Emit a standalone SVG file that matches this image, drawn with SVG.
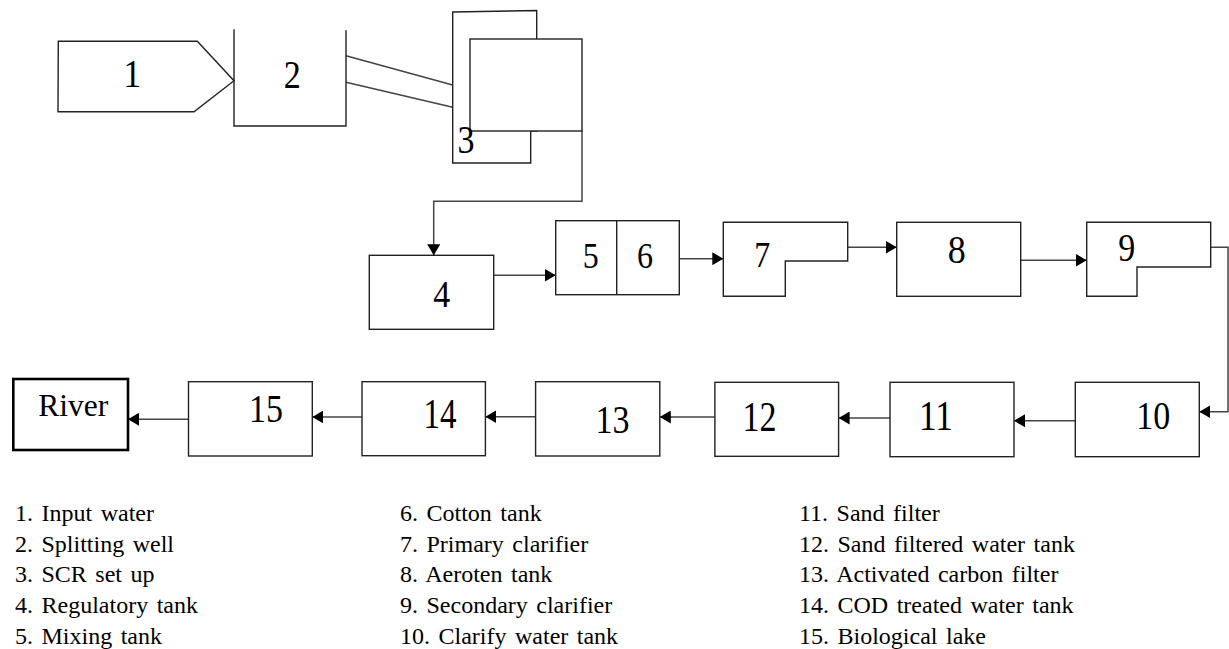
<svg xmlns="http://www.w3.org/2000/svg" width="1229" height="649" viewBox="0 0 1229 649">
<defs>
<style>
.shape{fill:#fff;stroke:#222;stroke-width:1.4}
.open{fill:none;stroke:#222;stroke-width:1.4}
.conn{fill:none;stroke:#444;stroke-width:1.5}
.num{font-family:"Liberation Serif","Times New Roman",serif;fill:#000;text-anchor:middle}
.leg{font-family:"Liberation Serif","Times New Roman",serif;font-size:24px;fill:#000;word-spacing:2.5px}
</style>
<marker id="ah" markerUnits="userSpaceOnUse" markerWidth="12" markerHeight="13" refX="11" refY="6.5" orient="auto">
<path d="M0,0 L11,6.5 L0,13 Z" fill="#000"/>
</marker>
</defs>
<rect width="1229" height="649" fill="#fff"/>

<g id="connectors">
<line class="conn" x1="346" y1="55.7" x2="452.7" y2="85"/>
<line class="conn" x1="346" y1="82.3" x2="452.7" y2="107.3"/>
<polyline class="conn" points="582,131 582,201.3 433.7,201.3 433.7,255.3" marker-end="url(#ah)"/>
<line class="conn" x1="493.7" y1="275.3" x2="555.7" y2="275.3" marker-end="url(#ah)"/>
<line class="conn" x1="679.3" y1="258.7" x2="723.3" y2="258.7" marker-end="url(#ah)"/>
<line class="conn" x1="847.7" y1="247.3" x2="896.7" y2="247.3" marker-end="url(#ah)"/>
<line class="conn" x1="1020.7" y1="260.3" x2="1086.7" y2="260.3" marker-end="url(#ah)"/>
<polyline class="conn" points="1210.7,247.3 1228,247.3 1228,411.7 1199.3,411.7" marker-end="url(#ah)"/>
<line class="conn" x1="1075.3" y1="420.7" x2="1014" y2="420.7" marker-end="url(#ah)"/>
<line class="conn" x1="890" y1="418" x2="838.6" y2="418" marker-end="url(#ah)"/>
<line class="conn" x1="714.9" y1="417" x2="659.8" y2="417" marker-end="url(#ah)"/>
<line class="conn" x1="535.6" y1="416.7" x2="485.4" y2="416.7" marker-end="url(#ah)"/>
<line class="conn" x1="362" y1="417" x2="312.3" y2="417" marker-end="url(#ah)"/>
<line class="conn" x1="188.5" y1="419.3" x2="128" y2="419.3" marker-end="url(#ah)"/>
</g>

<g id="node1">
<polygon class="shape" points="58.3,41.3 197.3,41.3 234,80.7 194,111.7 58,111.7"/>
<text class="num" x="132.3" y="87.3" font-size="41" textLength="18" lengthAdjust="spacingAndGlyphs">1</text>
</g>
<g id="node2">
<path class="open" d="M234,29.3 L234,126 L346,126 L346,30.3"/>
<text class="num" x="292.3" y="88.3" font-size="39" textLength="17" lengthAdjust="spacingAndGlyphs">2</text>
</g>
<g id="node3">
<polygon class="shape" points="452.7,12 536.7,10.5 536.7,131 530.7,131 530.7,163 452.7,163"/>
<rect class="shape" x="470" y="39" width="112" height="92"/>
<text class="num" x="466" y="153.3" font-size="39" textLength="17" lengthAdjust="spacingAndGlyphs">3</text>
</g>
<g id="node4">
<rect class="shape" x="369.3" y="255.3" width="124.4" height="74"/>
<text class="num" x="441.7" y="306.7" font-size="38" textLength="17" lengthAdjust="spacingAndGlyphs">4</text>
</g>
<g id="node5-6">
<rect class="shape" x="555.7" y="220.7" width="123.6" height="74"/>
<line class="open" x1="616.7" y1="220.7" x2="616.7" y2="294.7"/>
<text class="num" x="590.7" y="267.7" font-size="36" textLength="16" lengthAdjust="spacingAndGlyphs">5</text>
<text class="num" x="645" y="267.7" font-size="36" textLength="16" lengthAdjust="spacingAndGlyphs">6</text>
</g>
<g id="node7">
<polygon class="shape" points="723.3,222.3 847.7,222.3 847.7,261 785.3,261 785.3,296.3 723.3,296.3"/>
<text class="num" x="762.3" y="266.7" font-size="35" textLength="16" lengthAdjust="spacingAndGlyphs">7</text>
</g>
<g id="node8">
<rect class="shape" x="896.7" y="222.3" width="124" height="74"/>
<text class="num" x="956.7" y="263.3" font-size="41" textLength="18" lengthAdjust="spacingAndGlyphs">8</text>
</g>
<g id="node9">
<polygon class="shape" points="1086.7,222.3 1210.7,222.3 1210.7,267 1137,267 1137,296.3 1086.7,296.3"/>
<text class="num" x="1126.7" y="260.7" font-size="39" textLength="17" lengthAdjust="spacingAndGlyphs">9</text>
</g>
<g id="node10">
<rect class="shape" x="1075.3" y="382.3" width="124" height="74.4"/>
<text class="num" x="1153.3" y="429.3" font-size="41" textLength="34" lengthAdjust="spacingAndGlyphs">10</text>
</g>
<g id="node11">
<rect class="shape" x="890" y="382.3" width="124" height="74.4"/>
<text class="num" x="936" y="430" font-size="42" textLength="34" lengthAdjust="spacingAndGlyphs">11</text>
</g>
<g id="node12">
<rect class="shape" x="714.9" y="382.3" width="123.7" height="74"/>
<text class="num" x="759.4" y="431" font-size="42" textLength="34" lengthAdjust="spacingAndGlyphs">12</text>
</g>
<g id="node13">
<rect class="shape" x="535.6" y="381.7" width="124.2" height="74.3"/>
<text class="num" x="612.5" y="432.7" font-size="41" textLength="34" lengthAdjust="spacingAndGlyphs">13</text>
</g>
<g id="node14">
<rect class="shape" x="362" y="381.7" width="123.4" height="74"/>
<text class="num" x="440" y="428.3" font-size="42" textLength="33" lengthAdjust="spacingAndGlyphs">14</text>
</g>
<g id="node15">
<rect class="shape" x="188.5" y="381.7" width="123.8" height="74.3"/>
<text class="num" x="266" y="421.7" font-size="41" textLength="34" lengthAdjust="spacingAndGlyphs">15</text>
</g>
<g id="river">
<rect x="13.3" y="379" width="114.7" height="71" fill="#fff" stroke="#000" stroke-width="2.6"/>
<text x="38.3" y="416" font-family="'Liberation Serif','Times New Roman',serif" font-size="31" textLength="70" lengthAdjust="spacingAndGlyphs">River</text>
</g>

<g id="legend">
<text class="leg" x="15" y="521">1. Input water</text>
<text class="leg" x="15" y="551.7">2. Splitting well</text>
<text class="leg" x="15" y="582.4">3. SCR set up</text>
<text class="leg" x="15" y="613.1">4. Regulatory tank</text>
<text class="leg" x="15" y="643.8">5. Mixing tank</text>
<text class="leg" x="400" y="521">6. Cotton tank</text>
<text class="leg" x="400" y="551.7">7. Primary clarifier</text>
<text class="leg" x="400" y="582.4">8. Aeroten tank</text>
<text class="leg" x="400" y="613.1">9. Secondary clarifier</text>
<text class="leg" x="400" y="643.8">10. Clarify water tank</text>
<text class="leg" x="799" y="521">11. Sand filter</text>
<text class="leg" x="799" y="551.7">12. Sand filtered water tank</text>
<text class="leg" x="799" y="582.4">13. Activated carbon filter</text>
<text class="leg" x="799" y="613.1">14. COD treated water tank</text>
<text class="leg" x="799" y="643.8">15. Biological lake</text>
</g>
</svg>
